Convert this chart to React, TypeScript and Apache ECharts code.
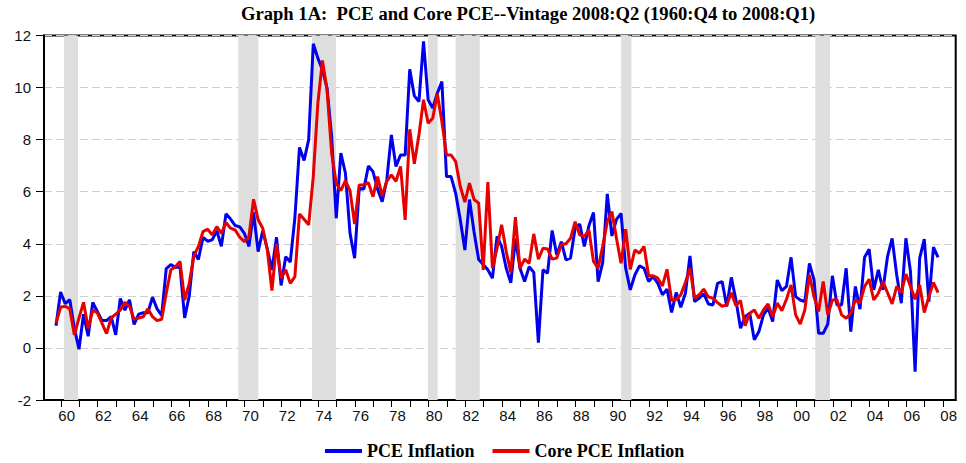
import React, { useEffect, useRef } from "react";
import * as echarts from "echarts";

// Quarterly observations, first value = 1960:Q1 position, step one quarter
const startYear = 1960;
const pceInflation = [
  0.85, 2.15, 1.7, 1.85, 0.75, -0.05, 1.3, 0.45, 1.75, 1.4,
  1.05, 1.05, 1.2, 0.5, 1.9, 1.45, 1.85, 0.9, 1.3, 1.35,
  1.35, 1.95, 1.5, 1.25, 3.05, 3.2, 3.1, 3.1, 1.15, 2.0,
  3.7, 3.4, 4.25, 4.1, 4.15, 4.5, 3.9, 5.15, 4.95, 4.7,
  4.65, 4.4, 3.9, 5.2, 3.7, 4.5, 3.8, 3.0, 4.25, 2.4,
  3.5, 3.3, 5.0, 7.7, 7.2, 8.0, 11.68, 11.13, 10.68, 9.98,
  8.12, 4.98, 7.48, 6.71, 4.4, 3.45, 6.13, 6.1, 6.99, 6.77,
  6.1, 5.62, 6.45, 8.18, 6.97, 7.41, 7.41, 10.7, 9.68, 9.46,
  11.77, 9.53, 9.21, 9.78, 10.23, 6.58, 6.58, 5.94, 4.92, 3.76,
  5.7, 4.45, 3.4, 3.2, 3.0, 2.68, 4.28, 3.9, 3.06, 2.5,
  4.2, 3.06, 2.55, 3.12, 2.9, 0.2, 3.0, 2.87, 4.51, 3.57,
  4.08, 3.38, 3.45, 4.6, 4.76, 3.9, 4.69, 5.2, 2.55, 3.28,
  5.92, 4.3, 4.94, 5.17, 3.06, 2.23, 2.8, 3.15, 3.06, 2.55,
  2.74, 2.48, 2.04, 2.26, 1.36, 2.13, 1.56, 2.1, 3.53, 1.78,
  1.91, 2.08, 1.69, 1.65, 2.48, 2.55, 1.59, 2.71, 1.84, 0.76,
  1.2, 1.33, 0.31, 0.63, 1.27, 1.53, 1.01, 2.61, 2.2, 2.36,
  3.48, 1.97, 1.84, 1.78, 3.25, 2.61, 0.56, 0.56, 0.92, 2.77,
  1.65, 1.65, 3.06, 0.63, 2.36, 1.49, 3.48, 3.79, 2.23, 3.0,
  2.23, 3.51, 4.21, 2.8, 1.72, 4.21, 2.93, -0.91, 3.45, 4.18,
  1.78, 3.87, 3.48,
];
const corePceInflation = [
  0.95, 1.56, 1.6, 1.5, 0.5, 1.15, 1.75, 0.75, 1.45, 1.35,
  0.95, 0.55, 1.15, 1.3, 1.45, 1.75, 1.6, 1.1, 1.15, 1.2,
  1.5, 1.2, 1.05, 1.1, 2.1, 3.0, 3.12, 3.32, 1.84, 2.48,
  3.53, 3.9, 4.47, 4.56, 4.34, 4.66, 4.4, 4.81, 4.6, 4.53,
  4.25, 4.08, 4.28, 5.71, 4.92, 4.6, 3.76, 2.2, 4.0, 2.68,
  3.0, 2.48, 2.74, 5.15, 4.94, 4.73, 6.58, 9.4, 11.04, 9.91,
  7.48, 6.33, 6.04, 6.43, 6.04, 4.76, 6.26, 6.26, 6.35, 5.81,
  6.58, 5.84, 6.4, 6.65, 6.4, 6.97, 4.92, 8.4, 7.07, 8.18,
  9.53, 8.63, 8.82, 9.76, 8.69, 7.41, 7.41, 7.16, 6.2, 5.6,
  6.33, 5.7, 5.56, 3.0, 6.37, 3.06, 3.83, 4.73, 3.7, 2.9,
  5.02, 3.06, 3.41, 3.25, 4.38, 3.41, 3.83, 3.8, 3.41, 3.45,
  3.96, 4.0, 4.21, 4.85, 4.34, 4.28, 4.53, 3.32, 3.06, 3.9,
  4.85, 5.24, 4.21, 3.25, 4.56, 3.02, 3.76, 3.64, 3.9, 2.77,
  2.77, 2.68, 2.38, 3.02, 1.82, 1.87, 2.04, 2.51, 3.06, 1.91,
  2.04, 2.26, 1.96, 1.91, 1.74, 1.6, 1.65, 2.12, 1.62, 1.82,
  0.85, 1.33, 1.46, 1.14, 1.46, 1.69, 1.2, 1.72, 1.43, 1.87,
  2.42, 1.27, 0.92, 1.46, 2.8, 1.97, 1.4, 2.55, 1.27, 1.84,
  1.84, 1.27, 1.14, 1.33, 1.84, 1.72, 2.36, 2.64, 1.84, 2.1,
  2.55, 2.12, 1.69, 2.36, 2.12, 2.84, 2.36, 1.87, 2.42, 1.36,
  1.97, 2.51, 2.12,
];
const recessionStarts = [1960.44, 1969.92, 1973.93, 1980.24, 1981.75, 1990.75, 2001.32];
const recessionEnds = [1961.2, 1971.01, 1975.24, 1980.77, 1983.06, 1991.31, 2002.12];
const tickYears = Array.from({ length: 49 }, (_, k) => 1960 + k);
const labelYears = tickYears.filter((y) => y % 2 === 0);
const yTicks = [-2, 0, 2, 4, 6, 8, 10, 12];

const TICK_OFFSET = 0.27;
const LABEL_OFFSET = 0.58;

export default function App() {
  const ref = useRef<HTMLDivElement>(null);
  useEffect(() => {
    if (!ref.current) return;
    const chart = echarts.init(ref.current, undefined, { renderer: "svg" });
    const toPairs = (arr: number[]) => arr.map((v, i) => [startYear + i * 0.25, v]);
    chart.setOption({
      animation: false,
      backgroundColor: "#ffffff",
      title: {
        text: "Graph 1A:  PCE and Core PCE--Vintage 2008:Q2 (1960:Q4 to 2008:Q1)",
        left: 236,
        top: -1,
        textStyle: {
          fontFamily: "Liberation Serif",
          fontWeight: "bold",
          fontSize: 18.6,
          color: "#000",
        },
      },
      legend: {
        left: 320,
        top: 437,
        itemWidth: 37,
        itemHeight: 4,
        itemGap: 18,
        icon: "rect",
        textStyle: {
          fontFamily: "Liberation Serif",
          fontWeight: "bold",
          fontSize: 18,
          color: "#000",
        },
        data: ["PCE Inflation", "Core PCE Inflation"],
      },
      grid: {
        left: 44,
        top: 35.5,
        right: 10.3,
        bottom: 63,
        show: true,
        borderColor: "#000",
        borderWidth: 2,
      },
      xAxis: {
        type: "value",
        min: 1959.347,
        max: 2008.96,
        splitLine: { show: false },
        axisLine: { show: true, onZero: false, lineStyle: { color: "#000", width: 2 } },
        axisTick: {
          show: true,
          length: 7,
          customValues: tickYears.map((y) => y + TICK_OFFSET),
          lineStyle: { color: "#000", width: 1 },
        },
        axisLabel: {
          customValues: labelYears.map((y) => y + LABEL_OFFSET),
          formatter: (v: number) => String(Math.floor(v) % 100).padStart(2, "0"),
          fontFamily: "Liberation Sans",
          fontSize: 15,
          color: "#111",
          margin: 8,
        },
      },
      yAxis: {
        type: "value",
        min: yTicks[0],
        max: yTicks[yTicks.length - 1],
        interval: 2,
        axisLine: { show: true, lineStyle: { color: "#000", width: 2 } },
        axisTick: { show: true, length: 8, lineStyle: { color: "#000", width: 1 } },
        axisLabel: {
          fontFamily: "Liberation Sans",
          fontSize: 15,
          color: "#111",
          margin: 13,
        },
        splitLine: {
          show: true,
          lineStyle: { color: "#cfcfcf", width: 1, type: [8, 4] },
        },
      },
      series: [
        {
          name: "PCE Inflation",
          type: "line",
          data: toPairs(pceInflation),
          showSymbol: false,
          lineStyle: { color: "#0000ee", width: 3 },
          itemStyle: { color: "#0000ee" },
          markArea: {
            silent: true,
            itemStyle: { color: "#dedede", opacity: 1 },
            data: recessionStarts.map((s, k) => [{ xAxis: s }, { xAxis: recessionEnds[k] }]),
          },
        },
        {
          name: "Core PCE Inflation",
          type: "line",
          data: toPairs(corePceInflation),
          showSymbol: false,
          lineStyle: { color: "#e60000", width: 3 },
          itemStyle: { color: "#e60000" },
        },
      ],
    });
    return () => chart.dispose();
  }, []);
  return (
    <div
      ref={ref}
      style={{ position: "absolute", left: 0, top: 0, width: 966, height: 463 }}
    />
  );
}
